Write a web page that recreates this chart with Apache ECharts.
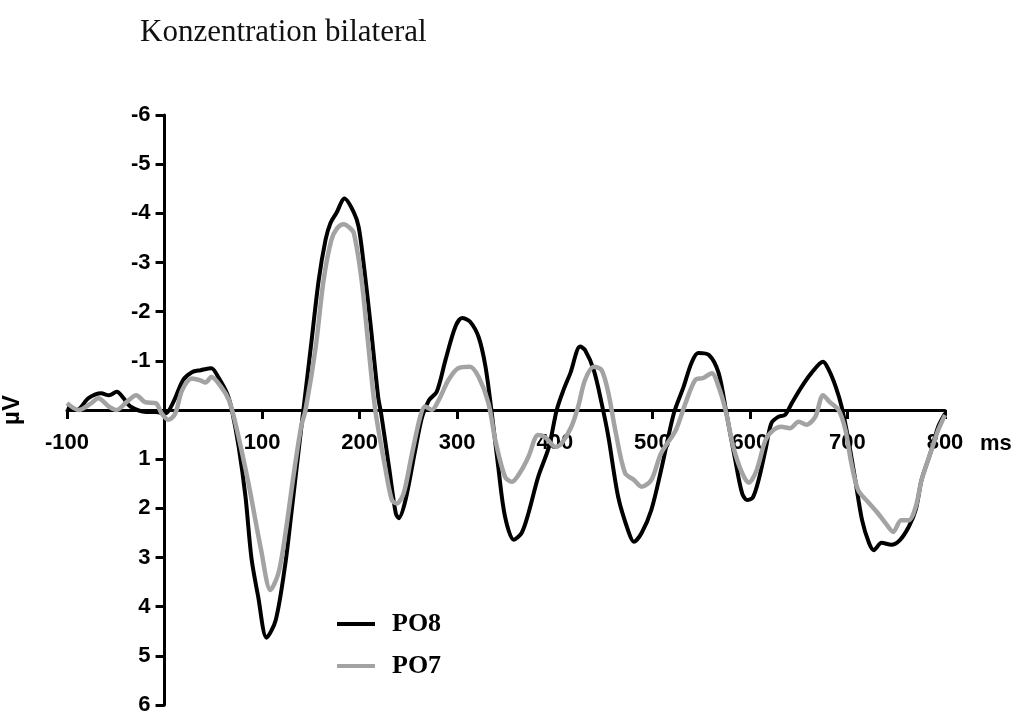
<!DOCTYPE html>
<html>
<head>
<meta charset="utf-8">
<script src="https://cdn.jsdelivr.net/npm/echarts@6/dist/echarts.min.js"></script>
<style>
html,body{margin:0;padding:0;background:#fff;}
#chart{width:1025px;height:714px;}
</style>
</head>
<body>
<div id="chart"></div>
<script>
const titleText = 'Konzentration bilateral';
const seriesNames = ['PO8', 'PO7'];
const xTicks = [-100, 0, 100, 200, 300, 400, 500, 600, 700, 800];
const yTicks = [-6, -5, -4, -3, -2, -1, 0, 1, 2, 3, 4, 5, 6];

const po8Time = [-100,-90,-78,-65,-57,-49,-42,-35,-19,-9,1,9,19,28,37,48,55,64,69,76,83,89,96,104.6,114,124,130,137,142,150,158,165,170,176,184.5,194,199,204,211,219,222,230,237,240,247,257,264,271,279,288,298,305,313,322,329,335,342,349,358,366,373,383,394,402,409,416,426,431,440,448,455,465,476,481,489,499,509,522,532,540,547,558,568,576,585,592,597,603,609,616,622,629,636,643,653,663,675,681,688,694,701,708,715,722,727,735,745,754,763,770,776,785,793,800];
const po8Values = [-0.06,0,-0.24,-0.34,-0.3,-0.37,-0.24,-0.07,0.04,0.04,0.07,-0.16,-0.61,-0.77,-0.81,-0.85,-0.67,-0.34,0,0.75,1.77,3.0,3.8,4.63,4.27,3.1,2.1,0.9,0.05,-1.29,-2.64,-3.46,-3.8,-4.0,-4.3,-4.02,-3.72,-2.99,-1.77,-0.26,0.07,1.15,2.1,2.2,1.83,0.81,0.14,-0.2,-0.37,-1.02,-1.69,-1.87,-1.8,-1.48,-0.88,0,1.15,2.17,2.64,2.5,2.1,1.36,0.75,0,-0.41,-0.75,-1.29,-1.22,-0.81,-0.14,0.55,1.77,2.5,2.68,2.5,2.03,1.22,0.07,-0.47,-0.95,-1.16,-1.12,-0.75,0.07,1.02,1.69,1.83,1.78,1.42,0.81,0.27,0.14,0.1,-0.14,-0.47,-0.75,-0.98,-0.81,-0.47,-0.07,0.61,1.42,2.24,2.7,2.85,2.7,2.74,2.64,2.37,2.03,1.42,0.88,0.34,0.07];

const po7Time = [-100,-88,-75,-68,-57,-49,-39,-29,-20,-9,-3,4,11,18,28,37,42,48,58,66,73,86,99,108.6,117,124,132,140,144.5,155,163,171,177,183.5,189,194,202,209,216,226,233,238,245,253,262,267,274,281,291,301,313,322,332,339,349,356,366,373,383,390,401,407,417,424,431,440,448,455,462,472,481,489,499,509,524,534,544,552,561,568,575,583,592,599,607,616,624,632,641,650,658,667,675,682,691,698,704,711,722,730,739,747,755,763,770,776,785,793,800];
const po7Values = [-0.14,0,-0.14,-0.24,-0.07,0,-0.16,-0.3,-0.16,-0.14,0.07,0.2,0.07,-0.4,-0.64,-0.6,-0.56,-0.67,-0.47,-0.2,0.3,1.49,2.85,3.66,3.3,2.5,1.36,0.34,0,-1.29,-2.64,-3.46,-3.7,-3.78,-3.72,-3.6,-2.64,-1.29,0,1.15,1.83,1.9,1.7,0.95,0.14,-0.07,0,-0.2,-0.61,-0.85,-0.88,-0.67,-0.14,0.61,1.36,1.46,1.22,0.95,0.51,0.55,0.75,0.68,0.34,-0.07,-0.61,-0.88,-0.81,-0.34,0.41,1.28,1.42,1.56,1.42,0.88,0.41,-0.14,-0.61,-0.65,-0.75,-0.47,0,0.75,1.28,1.48,1.22,0.61,0.41,0.34,0.37,0.24,0.3,0.14,-0.3,-0.16,0,0.41,1.08,1.63,1.89,2.07,2.3,2.48,2.24,2.24,1.97,1.42,0.88,0.41,0.1];

const zip = (xs, ys) => xs.map((x, i) => [x, ys[i]]);

const gridLeft = 67, gridRight = 80, gridTop = 115, gridBottom = 9;
const W = 1025, H = 714;
const plotW = W - gridLeft - gridRight;
const plotH = H - gridTop - gridBottom;
const xMin = xTicks[0], xMax = xTicks[xTicks.length - 1];
const yMin = yTicks[0], yMax = yTicks[yTicks.length - 1];
// move axes to the zero lines (so labels travel with them)
const yAxisOffset = -((0 - xMin) / (xMax - xMin)) * plotW;
const xAxisOffset = -((yMax - 0) / (yMax - yMin)) * plotH;

const chart = echarts.init(document.getElementById('chart'), null, {renderer: 'canvas'});
const axisFont = {color: '#000', fontFamily: 'Liberation Sans, Arial, sans-serif', fontWeight: 'bold', fontSize: 22};

chart.setOption({
  animation: false,
  backgroundColor: '#fff',
  title: {
    text: titleText,
    left: 135,
    top: 12,
    textStyle: {fontFamily: 'Liberation Serif, Times New Roman, serif', fontWeight: 'normal', fontSize: 31, color: '#111'}
  },
  legend: {
    orient: 'vertical',
    left: 332,
    top: 606,
    itemWidth: 38,
    itemHeight: 4,
    itemGap: 16,
    icon: 'rect',
    data: seriesNames,
    textStyle: {fontFamily: 'Liberation Serif, Times New Roman, serif', fontWeight: 'bold', fontSize: 26, color: '#000', padding: [0, 0, 0, 12]}
  },
  grid: {left: gridLeft, right: gridRight, top: gridTop, bottom: gridBottom, containLabel: false, outerBoundsMode: 'none'},
  xAxis: {
    type: 'value',
    position: 'bottom',
    offset: xAxisOffset,
    min: xMin,
    max: xMax,
    interval: 100,
    name: 'ms',
    nameLocation: 'end',
    nameGap: 35,
    nameTextStyle: Object.assign({}, axisFont, {verticalAlign: 'top', padding: [23, 0, 0, 0]}),
    axisLine: {show: true, onZero: false, lineStyle: {color: '#000', width: 3}},
    axisTick: {show: true, inside: false, length: 9, lineStyle: {color: '#000', width: 3}},
    axisLabel: Object.assign({}, axisFont, {margin: 22, formatter: v => (v === 0 ? '' : String(v))}),
    splitLine: {show: false}
  },
  yAxis: {
    type: 'value',
    position: 'left',
    offset: yAxisOffset,
    inverse: true,
    min: yMin,
    max: yMax,
    interval: 1,
    name: 'µV',
    nameLocation: 'middle',
    nameRotate: 90,
    nameGap: 140,
    nameTextStyle: Object.assign({}, axisFont, {fontSize: 24}),
    axisLine: {show: true, onZero: false, lineStyle: {color: '#000', width: 3}},
    axisTick: {show: true, inside: false, length: 9, lineStyle: {color: '#000', width: 3}},
    axisLabel: Object.assign({}, axisFont, {margin: 14, formatter: v => (v === 0 ? '' : String(v))}),
    splitLine: {show: false}
  },
  series: [
    {
      name: seriesNames[0],
      type: 'line',
      data: zip(po8Time, po8Values),
      smooth: 0.3,
      symbol: 'none',
      color: '#000',
      lineStyle: {color: '#000', width: 4},
      itemStyle: {color: '#000'}
    },
    {
      name: seriesNames[1],
      type: 'line',
      data: zip(po7Time, po7Values),
      smooth: 0.3,
      symbol: 'none',
      color: '#a3a3a3',
      lineStyle: {color: '#a3a3a3', width: 4.5},
      itemStyle: {color: '#a3a3a3'}
    }
  ]
});
</script>
</body>
</html>
